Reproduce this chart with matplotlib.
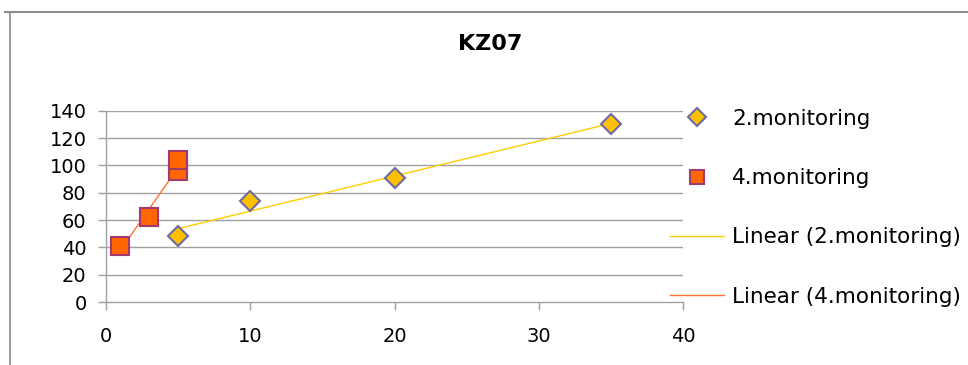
import numpy as np
import matplotlib
matplotlib.use("Agg")
import matplotlib.pyplot as plt
from matplotlib.lines import Line2D

# Measurements per monitoring campaign
x_mon2 = [5, 10, 20, 35]
y_mon2 = [48, 74, 91, 130]
x_mon4 = [1, 3, 5, 5]
y_mon4 = [41, 62, 96, 104]

title = "KZ07"
labels = ["2.monitoring", "4.monitoring",
          "Linear (2.monitoring)", "Linear (4.monitoring)"]
xticks = [0, 10, 20, 30, 40]
yticks = [0, 20, 40, 60, 80, 100, 120, 140]

W, H = 968, 365
fig = plt.figure(figsize=(W / 100, H / 100), dpi=100)
plt.rcParams['font.family'] = ['DejaVu Sans']

ax = fig.add_axes([106 / W, 1 - 302 / H, (683 - 106) / W, (302 - 110.7) / H])

grid_c = "#A0A0A0"
for v in yticks[1:]:
    ax.axhline(v, color=grid_c, lw=1.0, zorder=0)

# Least-squares trend lines over each series' data range
def trend(xs, ys):
    xs = np.asarray(xs, float)
    ys = np.asarray(ys, float)
    k, b = np.polyfit(xs, ys, 1)
    xx = np.array([xs.min(), xs.max()])
    return xx, k * xx + b

tx2, ty2 = trend(x_mon2, y_mon2)
tx4, ty4 = trend(x_mon4, y_mon4)

line_y = "#FFCC00"
line_o = "#FF7033"
ax.plot(tx2, ty2, color=line_y, lw=1.0, zorder=2)
ax.plot(tx4, ty4, color=line_o, lw=1.0, zorder=2)

ax.plot(x_mon2, y_mon2, ls="none", marker="D", ms=10.5, mfc="#FFC000",
        mec="#6B6BA6", mew=1.5, zorder=3)
ax.plot(x_mon4, y_mon4, ls="none", marker="s", ms=12.5, mfc="#FF6600",
        mec="#A33A6E", mew=1.5, zorder=3)

ax.set_xlim(0, 40)
ax.set_ylim(0, 140)
ax.set_xticks(xticks)
ax.set_yticks(yticks)
for s in ["top", "right"]:
    ax.spines[s].set_visible(False)
for s in ["left", "bottom"]:
    ax.spines[s].set_color(grid_c)
    ax.spines[s].set_linewidth(1.0)
ax.tick_params(axis="both", direction="out", length=6, width=1.0,
               color=grid_c, labelsize=14, labelcolor="black")
ax.tick_params(axis="x", pad=12)
ax.tick_params(axis="y", pad=8)

fig.text(490 / W, 1 - 44 / H, title, ha="center", va="center",
         fontsize=16, fontweight="bold")

handles = [
    Line2D([], [], ls="none", marker="D", ms=9, mfc="#FFC000",
           mec="#6B6BA6", mew=1.5),
    Line2D([], [], ls="none", marker="s", ms=10, mfc="#FF6600",
           mec="#A33A6E", mew=1.5),
    Line2D([], [], color=line_y, lw=1.0),
    Line2D([], [], color=line_o, lw=1.0),
]
leg = fig.legend(handles, labels, loc="upper left",
                 bbox_to_anchor=(670 / W, 1 - 109 / H),
                 frameon=False, fontsize=15.5, handlelength=2.5,
                 handletextpad=0.4, labelspacing=1.82, borderaxespad=0,
                 borderpad=0)

# Chart-area border (top and left edges)
border_c = "#8C8C8C"
fig.add_artist(Line2D([5 / W, 1], [1 - 11.5 / H, 1 - 11.5 / H],
                      transform=fig.transFigure, color=border_c, lw=1.5))
fig.add_artist(Line2D([9.5 / W, 9.5 / W], [1 - 11.5 / H, 0],
                      transform=fig.transFigure, color=border_c, lw=1.2))

fig.savefig("out.png", dpi=100)
